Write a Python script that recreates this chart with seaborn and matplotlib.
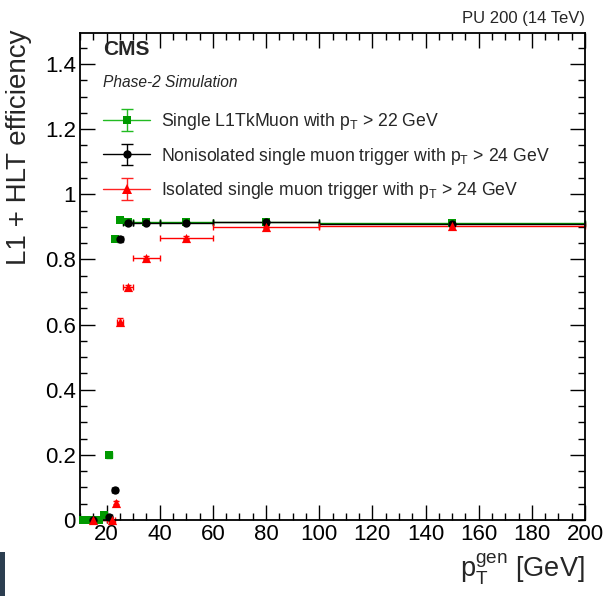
import numpy as np
import pandas as pd
import matplotlib
matplotlib.use("Agg")
import matplotlib.pyplot as plt
from matplotlib.patches import Rectangle
from matplotlib.legend_handler import HandlerTuple, HandlerErrorbar
from matplotlib.container import ErrorbarContainer
from matplotlib.lines import Line2D
import seaborn as sns

# ---------------- data ----------------
tk_x = [11, 13, 15, 17, 19, 21, 23, 25, 28, 35, 50, 80, 150]
tk_xerr = [1, 1, 1, 1, 1, 1, 1, 1, 2, 5, 10, 20, 50]
tk_y = [0.0, 0.0, 0.0, 0.0, 0.015, 0.20, 0.863, 0.921, 0.916, 0.916, 0.916, 0.916, 0.913]
tk_yerr = [0.0, 0.0, 0.0, 0.0, 0.004, 0.01, 0.008, 0.006, 0.004, 0.003, 0.003, 0.002, 0.002]

noniso_x = [15, 21, 23, 25, 28, 35, 50, 80, 150]
noniso_xerr = [5, 1, 1, 1, 2, 5, 10, 20, 50]
noniso_y = [0.0, 0.008, 0.092, 0.862, 0.911, 0.912, 0.912, 0.914, 0.910]
noniso_yerr = [0.0, 0.003, 0.006, 0.008, 0.005, 0.003, 0.003, 0.002, 0.002]

iso_x = [15, 22, 23.5, 25, 28, 35, 50, 80, 150]
iso_xerr = [5, 1, 0.5, 1, 2, 5, 10, 20, 50]
iso_y = [0.0, 0.0, 0.053, 0.609, 0.714, 0.805, 0.867, 0.899, 0.903]
iso_yerr = [0.0, 0.0, 0.005, 0.01, 0.008, 0.005, 0.004, 0.003, 0.002]

labels = ["Single L1TkMuon with $p_{T}$ > 22 GeV",
          "Nonisolated single muon trigger with $p_{T}$ > 24 GeV",
          "Isolated single muon trigger with $p_{T}$ > 24 GeV"]

x_ticks = [20, 40, 60, 80, 100, 120, 140, 160, 180, 200]
y_ticks = [0, 0.2, 0.4, 0.6, 0.8, 1.0, 1.2, 1.4]
y_tick_labels = ["0", "0.2", "0.4", "0.6", "0.8", "1", "1.2", "1.4"]

# ---------------- style ----------------
sns.set_theme(style="ticks")
plt.rcParams['font.family'] = ['Liberation Sans', 'DejaVu Sans']
plt.rcParams['mathtext.fontset'] = 'custom'
plt.rcParams['mathtext.rm'] = 'Liberation Sans'
plt.rcParams['mathtext.it'] = 'Liberation Sans:italic'
plt.rcParams['mathtext.default'] = 'regular'

GREEN = "#009900"
BLACK = "#000000"
RED = "#ff0000"
LEG_LINE = {GREEN: "#22bb22", BLACK: "#000000", RED: "#ff2222"}

fig = plt.figure(figsize=(6.04, 5.96), dpi=100)
ax = fig.add_axes([80 / 604, 76 / 596, 505 / 604, 487 / 596])

series = [
    (tk_x, tk_y, tk_xerr, tk_yerr, GREEN, "s", 28),
    (noniso_x, noniso_y, noniso_xerr, noniso_yerr, BLACK, "o", 36),
    (iso_x, iso_y, iso_xerr, iso_yerr, RED, "^", 44),
]

handles = []
for (x, y, xe, ye, col, mk, sz), lab in zip(series, labels):
    ax.errorbar(x, y, xerr=xe, yerr=ye, fmt='none', ecolor=col,
                elinewidth=1.0, capsize=2.5, capthick=1.0, clip_on=False)
    df = pd.DataFrame({"pt": x, "eff": y})
    sns.scatterplot(data=df, x="pt", y="eff", ax=ax, color=col, marker=mk, s=sz,
                    edgecolor=col, linewidth=0, legend=False, clip_on=False, zorder=3)
    # legend pieces: full-width horizontal line, vertical error bar with caps, marker
    hline = Line2D([], [], linestyle='-', color=LEG_LINE[col], linewidth=1.0)
    vbar = ax.errorbar([np.nan], [np.nan], yerr=[0.01], fmt='none', ecolor=LEG_LINE[col],
                       elinewidth=1.0, capsize=4, capthick=1.0)
    mline = Line2D([], [], linestyle='none', marker=mk, color=col,
                   markersize=np.sqrt(sz) * 1.0, markeredgewidth=0)
    handles.append((hline, vbar, mline))

ax.set_xlim(10, 200)
ax.set_ylim(0, 1.495)
ax.set_xticks(x_ticks)
ax.set_xticklabels([str(t) for t in x_ticks])
ax.set_xticks(np.arange(10, 201, 5), minor=True)
ax.set_yticks(y_ticks)
ax.set_yticklabels(y_tick_labels)
ax.set_yticks(np.arange(0, 1.5, 0.05), minor=True)

ax.tick_params(which='both', direction='in', top=True, right=True,
               labelsize=16, colors='black', width=1.0)
ax.tick_params(which='major', length=10.5, pad=3)
ax.tick_params(which='minor', length=5)
for sp in ax.spines.values():
    sp.set_linewidth(1.3)
    sp.set_color('black')

ax.set_xlabel("$p_{T}^{gen}$ [GeV]", fontsize=19.5, loc='right')
ax.xaxis.set_label_coords(1.0, -0.065)
ax.set_ylabel("L1 + HLT efficiency", fontsize=20, loc='top')
ax.yaxis.set_label_coords(-0.095, 1.008)

ax.text(0.0455, 0.9548, "CMS", transform=ax.transAxes, fontsize=15,
        fontweight='bold', va='baseline', ha='left')
ax.text(0.0455, 0.8897, "Phase-2 Simulation", transform=ax.transAxes,
        fontsize=11.2, style='italic', va='baseline', ha='left')
ax.text(1.0, 1.0 + 7 / 487, "PU 200 (14 TeV)", transform=ax.transAxes,
        fontsize=12, va='bottom', ha='right')

leg = ax.legend(handles, labels,
                handler_map={tuple: HandlerTuple(ndivide=1),
                             ErrorbarContainer: HandlerErrorbar(xerr_size=0.5, yerr_size=0.62)},
                loc='upper left', bbox_to_anchor=(0.045, 0.839), frameon=False,
                fontsize=12.7, handlelength=2.7, handletextpad=0.6,
                labelspacing=0.75, borderaxespad=0, borderpad=0)

fig.patches.append(Rectangle((0, 0), 5 / 604, 44 / 596, transform=fig.transFigure,
                             facecolor="#2c3e50", edgecolor='none', zorder=10))

fig.savefig("out.png", dpi=100)
